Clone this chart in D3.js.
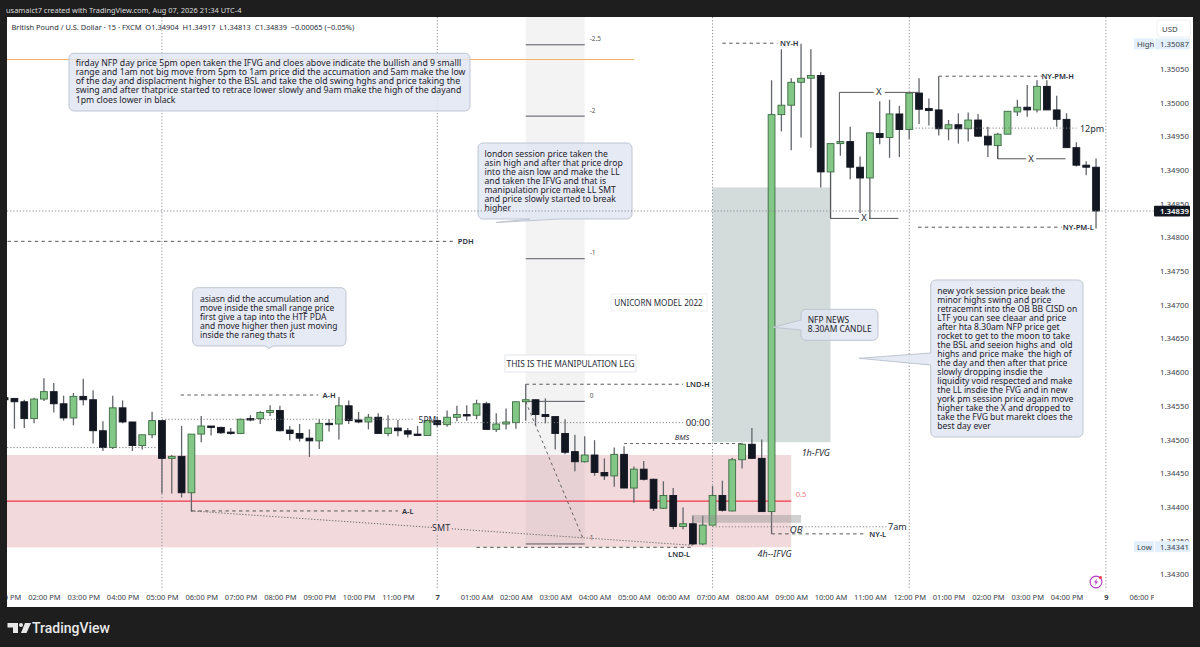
<!DOCTYPE html>
<html><head><meta charset="utf-8">
<script src="https://cdn.jsdelivr.net/npm/d3@7"></script>
<style>
html,body{margin:0;padding:0;background:#1e1e1e;overflow:hidden}
svg{display:block}
text{font-family:"Noto Sans",sans-serif}
</style></head><body><svg id="c" width="1200" height="647"></svg>
<script>
// ---- candle values (15 min bars, GBPUSD) ----
const opens=[1.34562,1.34561,1.34556,1.34531,1.34560,1.34571,1.34553,1.34532,1.34564,1.34559,1.34513,1.34488,1.34547,1.34526,1.34491,1.34507,1.34528,1.34472,1.34475,1.34421,1.34508,1.34520,1.34518,1.34511,1.34509,1.34531,1.34531,1.34540,1.34543,1.34514,1.34509,1.34502,1.34498,1.34524,1.34523,1.34550,1.34529,1.34526,1.34533,1.34509,1.34517,1.34513,1.34508,1.34506,1.34528,1.34522,1.34533,1.34537,1.34536,1.34553,1.34515,1.34523,1.34525,1.34556,1.34559,1.34537,1.34534,1.34509,1.34482,1.34467,1.34477,1.34451,1.34446,1.34478,1.34428,1.34456,1.34441,1.34398,1.34417,1.34371,1.34375,1.34345,1.34373,1.34417,1.34394,1.34470,1.34493,1.34472,1.34393,1.34982,1.34996,1.35030,1.35036,1.35040,1.34897,1.34939,1.34942,1.34904,1.34888,1.34954,1.34948,1.34983,1.34960,1.35014,1.34991,1.34989,1.34961,1.34967,1.34961,1.34974,1.34950,1.34936,1.34953,1.34986,1.34993,1.34989,1.35024,1.34989,1.34975,1.34933,1.34907,1.34904];
const highs=[1.34562,1.34561,1.34559,1.34562,1.34591,1.34584,1.34565,1.34569,1.34590,1.34573,1.34527,1.34565,1.34558,1.34526,1.34507,1.34541,1.34528,1.34477,1.34520,1.34508,1.34535,1.34520,1.34519,1.34517,1.34531,1.34536,1.34542,1.34551,1.34550,1.34520,1.34523,1.34515,1.34530,1.34530,1.34563,1.34558,1.34541,1.34538,1.34539,1.34536,1.34529,1.34517,1.34520,1.34529,1.34534,1.34543,1.34550,1.34551,1.34559,1.34556,1.34539,1.34546,1.34556,1.34582,1.34559,1.34561,1.34534,1.34530,1.34507,1.34505,1.34499,1.34472,1.34488,1.34490,1.34460,1.34468,1.34442,1.34438,1.34428,1.34399,1.34387,1.34387,1.34431,1.34439,1.34473,1.34495,1.34517,1.34500,1.35033,1.35079,1.35036,1.35087,1.35079,1.35045,1.34939,1.34942,1.34964,1.34920,1.34955,1.35002,1.35004,1.34995,1.35015,1.35036,1.35006,1.35039,1.34974,1.34984,1.34985,1.34983,1.34964,1.34955,1.34987,1.35004,1.35026,1.35033,1.35033,1.35010,1.34984,1.34941,1.34913,1.34917];
const lows=[1.34559,1.34516,1.34517,1.34524,1.34557,1.34540,1.34528,1.34521,1.34551,1.34494,1.34483,1.34486,1.34524,1.34483,1.34485,1.34502,1.34420,1.34420,1.34414,1.34393,1.34496,1.34506,1.34508,1.34507,1.34508,1.34527,1.34523,1.34535,1.34512,1.34499,1.34497,1.34474,1.34486,1.34512,1.34500,1.34523,1.34524,1.34515,1.34508,1.34505,1.34505,1.34503,1.34505,1.34506,1.34519,1.34519,1.34527,1.34528,1.34530,1.34514,1.34511,1.34515,1.34516,1.34528,1.34521,1.34524,1.34485,1.34478,1.34453,1.34466,1.34446,1.34440,1.34430,1.34428,1.34406,1.34439,1.34394,1.34397,1.34367,1.34367,1.34343,1.34343,1.34373,1.34393,1.34393,1.34457,1.34471,1.34393,1.34360,1.34957,1.34929,1.34948,1.34933,1.34874,1.34828,1.34921,1.34886,1.34836,1.34828,1.34938,1.34918,1.34919,1.34946,1.34968,1.34966,1.34951,1.34944,1.34939,1.34942,1.34949,1.34919,1.34916,1.34953,1.34980,1.34979,1.34985,1.34989,1.34964,1.34933,1.34905,1.34892,1.34813];
const closes=[1.34559,1.34556,1.34531,1.34560,1.34571,1.34553,1.34532,1.34564,1.34559,1.34513,1.34488,1.34547,1.34526,1.34491,1.34507,1.34528,1.34472,1.34475,1.34421,1.34508,1.34520,1.34518,1.34510,1.34509,1.34530,1.34530,1.34540,1.34543,1.34513,1.34509,1.34502,1.34498,1.34524,1.34523,1.34550,1.34528,1.34526,1.34533,1.34509,1.34517,1.34513,1.34508,1.34506,1.34528,1.34522,1.34533,1.34537,1.34535,1.34553,1.34515,1.34523,1.34526,1.34556,1.34559,1.34537,1.34534,1.34509,1.34481,1.34467,1.34477,1.34451,1.34446,1.34478,1.34428,1.34456,1.34441,1.34398,1.34417,1.34371,1.34375,1.34345,1.34373,1.34417,1.34395,1.34470,1.34493,1.34472,1.34393,1.34982,1.34996,1.35030,1.35036,1.35040,1.34897,1.34939,1.34942,1.34904,1.34888,1.34955,1.34948,1.34983,1.34960,1.35014,1.34990,1.34988,1.34961,1.34967,1.34961,1.34974,1.34950,1.34937,1.34953,1.34987,1.34993,1.34989,1.35024,1.34989,1.34975,1.34933,1.34907,1.34904,1.34839];
// ---- axes ----
const priceTicks=[1.3505,1.35,1.3495,1.349,1.3485,1.348,1.3475,1.347,1.3465,1.346,1.3455,1.345,1.3445,1.344,1.3435,1.343];
const timeLabels=["01:00 PM","02:00 PM","03:00 PM","04:00 PM","05:00 PM","06:00 PM","07:00 PM","08:00 PM","09:00 PM","10:00 PM","11:00 PM","7","01:00 AM","02:00 AM","03:00 AM","04:00 AM","05:00 AM","06:00 AM","07:00 AM","08:00 AM","09:00 AM","10:00 AM","11:00 AM","12:00 PM","01:00 PM","02:00 PM","03:00 PM","04:00 PM","9","06:00 PM"];
const sessionBars=[16,44,72,92,112];
// ---- price levels drawn on the chart: label, price, first bar, last bar ----
const levelNames=["PDH","A-H","A-L","LND-H","NY-H","NY-PM-H","NY-PM-L","NY-L"];
const levelPrices=[1.34794,1.34566,1.34394,1.34582,1.35088,1.35039,1.34815,1.34360];
const levelFrom=[0.3,17.9,19,53,73,95,92.9,78];
const levelTo=[45.8,31.9,40,69,78.6,105.5,107.5,87.5];
// ---- fibonacci ----
const fibLevels=[-2.5,-2,-1,0,1];
const fibZero=1.345566, fibOne=1.34345;
// ---- notes ----
const noteTop=["firday NFP day price 5pm open taken the IFVG and cloes above indicate the bullish and 9 smalll","range and 1am not big move from 5pm to 1am price did the accumation and 5am make the low","of the day and displacment higher to the BSL and take the old swing hghs and price taking the","swing and after thatprice started to retrace lower slowly and 9am make the high of the dayand","1pm cloes lower in black"];
const noteLondon=["london session price taken the","asin high and after that price drop","into the aisn low and make the LL","and taken the IFVG and that is","manipulation price make LL SMT","and price slowly started to break","higher"];
const noteAsia=["asiasn did the accumulation and","move inside the small range price","first give a tap into the HTF PDA","and move higher then just moving","inside the raneg thats it"];
const noteNfp=["NFP NEWS","8.30AM CANDLE"];
const noteNy=["new york session price beak the","minor highs swing and price","retracemnt into the OB BB CISD on","LTF you can see cleaar and price","after hta 8.30am NFP price get","rocket to get to the moon to take","the BSL and seeion highs and  old","highs and price make  the high of","the day and then after that price","slowly dropping insdie the","liquidity void respected and make","the LL insdie the FVG and in new","york pm session price again move","higher take the X and dropped to","take the FVG but marekt cloes the","best day ever"];

const svg=d3.select("#c");
const x=d3.scaleLinear().domain([0,116]).range([4.6,1145.2]);
const y=d3.scaleLinear().domain([1.343,1.3505]).range([574.3,68.8]);

svg.append("rect").attr("width",1200).attr("height",647).attr("fill","#1e1e1e");
svg.append("rect").attr("x",7).attr("y",17).attr("width",1186).attr("height",590).attr("fill","#fff");
const defs=svg.append("defs");
defs.append("clipPath").attr("id","pane").append("rect").attr("x",7).attr("y",17).attr("width",1147).attr("height",573);
defs.append("clipPath").attr("id","timeclip").append("rect").attr("x",7).attr("y",590).attr("width",1147).attr("height",17);
const g=svg.append("g").attr("clip-path","url(#pane)");

function band(p1,p2,i1,i2,fill){return g.append("rect").attr("x",x(i1)).attr("width",x(i2)-x(i1)).attr("y",y(p1)).attr("height",y(p2)-y(p1)).attr("fill",fill);}
function seg(i1,p1,i2,p2,col,w,dash){const l=g.append("line").attr("x1",x(i1)).attr("x2",x(i2)).attr("y1",y(p1)).attr("y2",y(p2)).attr("stroke",col).attr("stroke-width",w);if(dash)l.attr("stroke-dasharray",dash);return l;}
function lab(i,p,t,o={}){return g.append("text").attr("x",x(i)).attr("y",y(p)).attr("text-anchor",o.a||"middle").attr("dominant-baseline","central").attr("font-size",o.s||8).attr("font-weight",o.w||400).attr("font-style",o.i?"italic":"normal").attr("fill",o.c||"#2a2e39").text(t);}

// zones
band(1.34477,1.3434,-1,80,"#f2dadc");
band(1.34874,1.34496,72,84,"#d3dcda");
// fib band
const fibP=l=>fibZero+l*(fibOne-fibZero);
const fibL=53, fibR=59;
g.append("rect").attr("x",x(fibL)).attr("width",x(fibR)-x(fibL)).attr("y",17).attr("height",y(fibOne)-17).attr("fill","#787b86").attr("fill-opacity",0.09);
// orange line
g.append("line").attr("x1",7).attr("x2",634).attr("y1",59.5).attr("y2",59.5).attr("stroke","#f5b06a").attr("stroke-width",1);
// session dots
sessionBars.forEach(i=>g.append("line").attr("x1",x(i)).attr("x2",x(i)).attr("y1",17).attr("y2",590).attr("stroke","#8a8e96").attr("stroke-width",1).attr("stroke-dasharray","1.2 2"));
// last price line
svg.append("line").attr("x1",7).attr("x2",1154).attr("y1",y(closes[closes.length-1])).attr("y2",y(closes[closes.length-1])).attr("stroke","#8a8e96").attr("stroke-dasharray","1.2 2");
// red mid line
seg(-1,1.344085,80,1.344085,"#f23645",1.2);
// fib lines
fibLevels.forEach(l=>{seg(fibL,fibP(l),fibR,fibP(l),"#55585f",1);
 g.append("text").attr("x",x(fibR)+5).attr("y",y(fibP(l))-6).attr("dominant-baseline","central").attr("font-size",6.5).attr("fill","#555").text(l);});

// candles
const bars=d3.range(opens.length);
const gb=g.append("g");
gb.selectAll("line.w").data(bars).join("line").attr("class","w")
 .attr("x1",i=>x(i)).attr("x2",i=>x(i)).attr("y1",i=>y(highs[i])).attr("y2",i=>y(lows[i]))
 .attr("stroke","#62656b").attr("stroke-width",1.3);
gb.selectAll("rect.b").data(bars).join("rect").attr("class","b")
 .attr("x",i=>x(i)-3.4).attr("width",6.8)
 .attr("y",i=>y(Math.max(opens[i],closes[i])))
 .attr("height",i=>Math.max(1.4,Math.abs(y(opens[i])-y(closes[i]))))
 .attr("fill",i=>closes[i]>=opens[i]?"#82c785":"#131722")
 .attr("stroke",i=>closes[i]>=opens[i]?"#3c6b43":"#131722").attr("stroke-width",0.9);

// OB box (over candles)
band(1.34388,1.343765,69.9,81,"#8c8c8c").attr("fill-opacity",0.4);

// levels
levelNames.forEach((n,k)=>{seg(levelFrom[k],levelPrices[k],levelTo[k],levelPrices[k],"#444",0.9,"3.4 3.4");});
const bold={w:600,s:7.5};
lab(46.9,1.34794,"PDH",bold);lab(33,1.34566,"A-H",bold);lab(41,1.34394,"A-L",bold);
lab(70.5,1.34582,"LND-H",bold);lab(79.8,1.35088,"NY-H",bold);lab(107.1,1.35039,"NY-PM-H",bold);
lab(109.2,1.34815,"NY-PM-L",bold);lab(88.8,1.3436,"NY-L",bold);
seg(48,1.3434,70,1.3434,"#444",0.9,"3.4 3.4");lab(68.6,1.3433,"LND-L",bold);
// BMS
seg(63,1.34494,74.9,1.34494,"#555",0.9,"3 3");lab(68.9,1.34504,"BMS",{i:1,s:7.5});
// dotted refs
const dot="1.2 2";
seg(16,1.3453,41.7,1.3453,"#777",0.9,dot);lab(43,1.3453,"5PM",{s:8.5});
seg(43.5,1.34525,69,1.34525,"#777",0.9,dot);lab(70.5,1.34525,"00:00",{s:9.5});
seg(0.25,1.34488,15.5,1.34488,"#777",0.9,dot);
seg(92,1.34962,109,1.34962,"#777",0.9,dot);lab(110.6,1.34962,"12pm",{s:9});
seg(72,1.343705,89.7,1.343705,"#777",0.9,dot);lab(90.8,1.343705,"7am",{s:9});
lab(80.5,1.34366,"OB",{i:1,s:9.5});
lab(78.3,1.34331,"4h--IFVG",{i:1,s:9});
lab(82.5,1.34481,"1h-FVG",{i:1,s:9});
lab(81,1.344195,"0.5",{c:"#f77c80",s:7.5});
// SMT + manipulation diagonal
seg(19,1.34394,70,1.34343,"#555",0.9,"1.2 1.8");
band(1.34378,1.3436,43.5,45.3,"#f2dadc");
lab(44.4,1.34369,"SMT",{s:9});
seg(53,1.34556,58.8,1.34354,"#555",0.9,"3 3");
// X legs
seg(84.9,1.35015,84.9,1.3494,"#555",1);seg(84.9,1.35015,88.4,1.35015,"#555",1);lab(88.9,1.35016,"X",{s:9.5});seg(89.5,1.35015,92.9,1.35015,"#555",1);
seg(84,1.34897,84,1.34828,"#555",1);seg(84,1.34828,86.9,1.34828,"#555",1);lab(87.4,1.34829,"X",{s:9.5});seg(87.9,1.34828,90.9,1.34828,"#555",1);
seg(101,1.34937,101,1.349165,"#555",1);seg(101,1.349165,103.9,1.349165,"#555",1);lab(104.4,1.349175,"X",{s:9.5});seg(104.9,1.349165,107.9,1.349165,"#555",1);

// notes
function roundBox(x0,y0,x1,y1,r,ptr){
 const p=d3.path();
 p.moveTo(x0+r,y0);p.lineTo(x1-r,y0);p.arcTo(x1,y0,x1,y0+r,r);p.lineTo(x1,y1-r);p.arcTo(x1,y1,x1-r,y1,r);
 if(ptr&&ptr.side==="bottom"){p.lineTo(ptr.a,y1);p.lineTo(ptr.tx,ptr.ty);p.lineTo(ptr.b,y1);}
 p.lineTo(x0+r,y1);p.arcTo(x0,y1,x0,y1-r,r);
 if(ptr&&ptr.side==="left"){p.lineTo(x0,ptr.b);p.lineTo(ptr.tx,ptr.ty);p.lineTo(x0,ptr.a);}
 p.lineTo(x0,y0+r);p.arcTo(x0,y0,x0+r,y0,r);p.closePath();
 return p.toString();
}
function note(lines,bx0,by0,bx1,by1,tx,ty,fs,ptr,lh=9.05){
 g.append("path").attr("d",roundBox(bx0,by0,bx1,by1,5,ptr)).attr("fill","#dfe5f1").attr("fill-opacity",0.82).attr("stroke","#bfc5d2").attr("stroke-width",1);
 const t=g.append("text").attr("font-size",fs).attr("fill","#1f222b").style("white-space","pre");
 lines.forEach((s,k)=>t.append("tspan").attr("x",tx).attr("y",ty+k*lh).attr("dominant-baseline","central").text(s));
}
note(noteTop,69,53.3,470,111,75.7,63.3,8.7);
note(noteLondon,478,143,632,219,484.5,154,8.6,{side:"bottom",a:560,b:530,tx:496,ty:222.5});
note(noteAsia,192.7,287.7,346,346,200,298.3,8.5,{side:"bottom",a:273,b:265,tx:269,ty:348.5});
note(noteNfp,801,309.3,878,340.3,807.7,319.7,8.4,{side:"left",a:320,b:330,tx:773,ty:327.3});
note(noteNy,930.7,280,1083,437,937.3,290.7,8.55,{side:"left",a:353,b:365,tx:859,ty:358.3});
// plain captions
g.append("rect").attr("x",505).attr("y",355).attr("width",131).attr("height",17).attr("fill","#fff").attr("stroke","#e4e6ee");
g.append("text").attr("x",570.5).attr("y",363.5).attr("text-anchor","middle").attr("dominant-baseline","central").attr("font-size",8.4).attr("fill","#2a2e39").text("THIS IS THE MANIPULATION LEG");
g.append("rect").attr("x",611).attr("y",294).attr("width",96).attr("height",17).attr("fill","#fff").attr("stroke","#f0f1f5");
g.append("text").attr("x",658.5).attr("y",302.5).attr("text-anchor","middle").attr("dominant-baseline","central").attr("font-size",8.1).attr("fill","#2a2e39").text("UNICORN MODEL 2022");

// axes
const ya=svg.append("g").attr("transform","translate(1160,0)").call(d3.axisRight(y).tickValues(priceTicks).tickSize(0).tickPadding(0).tickFormat(d3.format(".5f")));
ya.select(".domain").remove();ya.selectAll("text").attr("font-size",7.8).attr("font-family","Noto Sans").attr("fill","#3a3e48");
const xa=svg.append("g").attr("clip-path","url(#timeclip)").append("g").attr("transform","translate(0,594.5)")
 .call(d3.axisBottom(x).tickValues(timeLabels.map((_,k)=>k*4)).tickSize(0).tickPadding(0).tickFormat((_,k)=>timeLabels[k]));
xa.select(".domain").remove();xa.selectAll("text").attr("font-size",7.5).attr("font-family","Noto Sans").attr("fill","#3a3e48")
 .attr("font-weight",(_,k)=>timeLabels[k].length<3?700:400);

// price badges
const hi=d3.max(highs), lo=d3.min(lows), last=closes[closes.length-1];
svg.append("rect").attr("x",1157).attr("y",20).attr("width",33.5).attr("height",17).attr("rx",3).attr("fill","#fff").attr("stroke","#eef0f3");
svg.append("text").attr("x",1162).attr("y",28.5).attr("dominant-baseline","central").attr("font-size",7.8).attr("fill","#3a3e48").text("USD");
function badge(p,name){const cy=y(p);
 svg.append("rect").attr("x",1134).attr("y",cy-5.5).attr("width",56).attr("height",11).attr("fill","#e3f0fb");
 svg.append("line").attr("x1",1154.5).attr("x2",1154.5).attr("y1",cy-5.5).attr("y2",cy+5.5).attr("stroke","#fff");
 svg.append("text").attr("x",1137).attr("y",cy).attr("dominant-baseline","central").attr("font-size",7.8).attr("fill","#3a3e48").text(name);
 svg.append("text").attr("x",1160).attr("y",cy).attr("dominant-baseline","central").attr("font-size",7.8).attr("fill","#3a3e48").text(d3.format(".5f")(p));}
badge(hi,"High");badge(1.34341,"Low");
svg.append("rect").attr("x",1154).attr("y",y(last)-5.3).attr("width",36).attr("height",10.8).attr("rx",1).attr("fill","#131722");
svg.append("text").attr("x",1160).attr("y",y(last)).attr("dominant-baseline","central").attr("font-size",7.8).attr("font-weight",600).attr("fill","#fff").text(d3.format(".5f")(last));

// headers
svg.append("text").attr("x",6).attr("y",9.5).attr("dominant-baseline","central").attr("font-size",7.45).attr("fill","#dcdcdc").text("usamaict7 created with TradingView.com, Aug 07, 2026 21:34 UTC-4");
svg.append("text").attr("x",11.5).attr("y",26.5).attr("dominant-baseline","central").attr("font-size",7.45).attr("fill","#2a2e39").style("white-space","pre").text("British Pound / U.S. Dollar · 15 · FXCM  O1.34904  H1.34917  L1.34813  C1.34839  −0.00065 (−0.05%)");

// bolt icon
const ic=svg.append("g").attr("transform","translate(1096,582)");
ic.append("circle").attr("r",5.9).attr("fill","#fff").attr("stroke","#b13ac6").attr("stroke-width",1.1);
ic.append("path").attr("d","M1,-3.6 L-2,0.6 L-0.2,0.6 L-1,3.6 L2,-0.6 L0.2,-0.6 Z").attr("fill","#b13ac6");
ic.append("circle").attr("cx",4.5).attr("cy",-4.6).attr("r",1.5).attr("fill","#f23645");

// logo
const lg=svg.append("g").attr("fill","#e8e8e8");
lg.append("path").attr("d","M7.5 623 H18 V633 H13 V627.5 H7.5 Z");
lg.append("circle").attr("cx",21).attr("cy",625).attr("r",2);
lg.append("path").attr("d","M25 623 H31 L26.5 633 H21 Z");
lg.append("text").attr("x",32).attr("y",628).attr("dominant-baseline","central").attr("font-size",14).attr("font-weight",500).style("font-family","Roboto").text("TradingView");
</script></body></html>
